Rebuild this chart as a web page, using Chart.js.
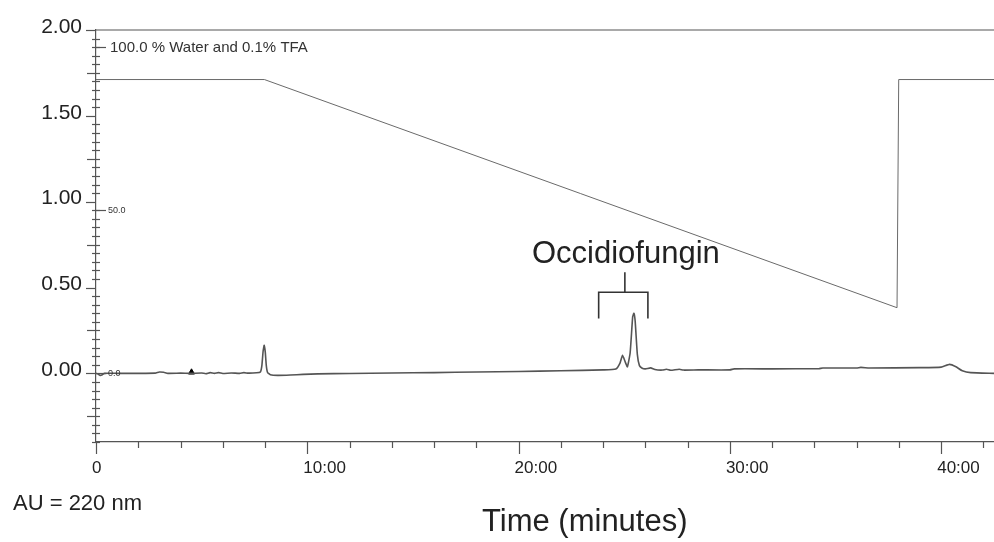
<!DOCTYPE html>
<html lang="en">
<head>
  <meta charset="UTF-8">
  <title>Occidiofungin HPLC trace</title>
  <script src="https://cdn.jsdelivr.net/npm/chart.js"></script>
  <style>
    body {
      margin: 0;
      background: #ffffff;
    }
    canvas {
      display: block;
    }
  </style>
</head>
<body>

<canvas id="hplcChart" width="994" height="542"></canvas>

<script>
  // Axis ticks
  const xTicks = [0, 10, 20, 30, 40];
  const xTickLabels = ['0', '10:00', '20:00', '30:00', '40:00'];
  const yTicks = [0, 0.5, 1, 1.5, 2];
  const yTickLabels = ['0.00', '0.50', '1.00', '1.50', '2.00'];

  // Absorbance trace (AU at 220 nm) vs time in minutes
  const traceTime = [
    0.00, 0.10, 0.20, 0.30, 0.40, 1.00, 2.00, 2.80, 3.00, 3.20, 3.40, 4.00, 4.50,
    5.00, 5.20, 5.40, 5.60, 5.80, 6.00, 6.40, 6.80, 7.00, 7.20, 7.60,
    7.78, 7.85, 7.91, 7.96, 8.01, 8.06, 8.12, 8.25, 8.60, 9.20, 9.80, 10.5,
    12.0, 14.0, 16.0, 18.0, 20.0, 22.0, 24.0, 24.6, 24.8, 24.92, 25.05, 25.15,
    25.28, 25.40, 25.46, 25.52, 25.62, 25.72, 25.85, 26.0, 26.25, 26.45, 26.8,
    27.0, 27.2, 27.6, 27.8, 28.5, 30.0, 30.2, 32.0, 34.2, 34.4, 36.0, 36.2,
    36.6, 39.0, 40.0, 40.4, 40.7, 41.0, 41.4, 42.5
  ];
  const traceAU = [
    0.000, -0.004, -0.012, -0.008, 0.000, 0.000, 0.000, 0.001, 0.008, 0.006, 0.000, 0.001, 0.000,
    0.002, -0.002, 0.004, 0.000, 0.004, -0.001, 0.002, 0.000, 0.004, 0.001, 0.003,
    0.008, 0.045, 0.130, 0.163, 0.125, 0.045, 0.005, -0.008, -0.012, -0.010, -0.006, -0.003,
    -0.001, 0.002, 0.004, 0.008, 0.011, 0.015, 0.020, 0.025, 0.060, 0.105, 0.065, 0.038,
    0.120, 0.330, 0.350, 0.300, 0.110, 0.045, 0.030, 0.026, 0.032, 0.022, 0.019,
    0.024, 0.018, 0.024, 0.019, 0.020, 0.020, 0.026, 0.026, 0.027, 0.031, 0.031, 0.035,
    0.031, 0.033, 0.036, 0.052, 0.038, 0.015, 0.004, 0.000
  ];

  // Gradient program (% water with 0.1% TFA)
  const gradTime = [0, 7.97, 37.91, 37.99, 42.5];
  const gradPercent = [90, 90, 20, 90, 90];
  const gradLabels = [
    { value: 100, text: '100.0 % Water and 0.1% TFA' },
    { value: 50, text: '50.0' },
    { value: 0, text: '0.0' }
  ];

  // Injection marker
  const markerTime = [4.52];
  const markerAU = [0.006];

  // Occidiofungin bracket
  const bracketTime = [23.79, 23.79, 26.12, 26.12];
  const bracketAU = [0.32, 0.472, 0.472, 0.32];
  const stemTime = [25.03, 25.03];
  const stemAU = [0.472, 0.589];
  const peakLabel = { text: 'Occidiofungin', time: 25.03, au: 0.645 };

  const toPoints = (xs, ys) => xs.map((x, i) => ({ x: x, y: ys[i] }));
  const FONT = "'Liberation Sans', Arial, sans-serif";

  // Tick marks, frame line and free text
  const decorPlugin = {
    id: 'decor',
    afterDraw(chart) {
      const ctx = chart.ctx;
      const xs = chart.scales.x;
      const ys = chart.scales.y;
      const y2 = chart.scales.y2;
      const area = chart.chartArea;
      ctx.save();
      ctx.strokeStyle = '#555';
      ctx.lineWidth = 1.2;

      // top frame line
      ctx.beginPath();
      ctx.moveTo(area.left, area.top);
      ctx.lineTo(area.right, area.top);
      ctx.stroke();

      // y ticks every 0.05
      for (let k = -8; k <= 40; k++) {
        const py = Math.round(ys.getPixelForValue(k * 0.05)) + 0.5;
        let x0 = area.left - 4, x1 = area.left + 4;
        if (k % 10 === 0) { x0 = area.left - 10; x1 = area.left; }
        else if (k % 5 === 0) { x0 = area.left - 9; x1 = area.left + 4; }
        ctx.beginPath();
        ctx.moveTo(x0, py);
        ctx.lineTo(x1, py);
        ctx.stroke();
      }

      // x ticks every 2 minutes
      for (let t = 0; t <= 42; t += 2) {
        const px = Math.round(xs.getPixelForValue(t)) + 0.5;
        const len = (t % 10 === 0) ? 12 : 6;
        ctx.beginPath();
        ctx.moveTo(px, area.bottom);
        ctx.lineTo(px, area.bottom + len);
        ctx.stroke();
      }

      // gradient scale labels
      ctx.fillStyle = '#333';
      ctx.textBaseline = 'middle';
      ctx.textAlign = 'left';
      gradLabels.forEach(g => {
        const py = Math.round(y2.getPixelForValue(g.value)) + 0.5;
        ctx.beginPath();
        ctx.moveTo(area.left, py);
        ctx.lineTo(area.left + 10, py);
        ctx.stroke();
        ctx.font = (g.value === 100 ? '15px ' : '9px ') + FONT;
        ctx.fillText(g.text, area.left + (g.value === 100 ? 14 : 12), py);
      });

      // peak annotation
      ctx.fillStyle = '#222';
      ctx.textAlign = 'center';
      ctx.textBaseline = 'alphabetic';
      ctx.font = '31px ' + FONT;
      ctx.fillText(peakLabel.text, xs.getPixelForValue(peakLabel.time) + 1,
        ys.getPixelForValue(peakLabel.au));

      // axis captions
      ctx.textAlign = 'left';
      ctx.font = '22px ' + FONT;
      ctx.fillText('AU = 220 nm', 13, 510);
      ctx.font = '31px ' + FONT;
      ctx.fillText('Time (minutes)', 482, 531);
      ctx.restore();
    }
  };

  const ctx = document.getElementById('hplcChart').getContext('2d');
  new Chart(ctx, {
    type: 'line',
    data: {
      datasets: [
        {
          data: toPoints(traceTime, traceAU),
          borderColor: '#555',
          borderWidth: 1.6,
          pointRadius: 0,
          tension: 0.15,
          yAxisID: 'y'
        },
        {
          data: toPoints(gradTime, gradPercent),
          borderColor: '#6a6a6a',
          borderWidth: 1,
          pointRadius: 0,
          tension: 0,
          yAxisID: 'y2'
        },
        {
          data: toPoints(bracketTime, bracketAU),
          borderColor: '#333',
          borderWidth: 1.6,
          pointRadius: 0,
          tension: 0,
          yAxisID: 'y'
        },
        {
          data: toPoints(stemTime, stemAU),
          borderColor: '#333',
          borderWidth: 1.6,
          pointRadius: 0,
          tension: 0,
          yAxisID: 'y'
        },
        {
          data: toPoints(markerTime, markerAU),
          showLine: false,
          pointStyle: 'triangle',
          pointRadius: 3.5,
          pointBackgroundColor: '#000',
          pointBorderColor: '#000',
          pointBorderWidth: 1,
          yAxisID: 'y'
        }
      ]
    },
    options: {
      responsive: false,
      animation: false,
      layout: { autoPadding: false, padding: { top: 30, right: 0, left: 0, bottom: 0 } },
      plugins: {
        legend: { display: false },
        tooltip: { enabled: false }
      },
      scales: {
        x: {
          type: 'linear',
          min: 0,
          max: 42.5,
          afterBuildTicks: s => { s.ticks = xTicks.map(v => ({ value: v })); },
          afterFit: s => { s.height = 100; s.paddingLeft = 0; s.paddingRight = 0; },
          grid: { display: false, drawTicks: false },
          border: { display: true, color: '#555', width: 1.2 },
          ticks: {
            align: 'start',
            labelOffset: -4,
            padding: 16,
            maxRotation: 0,
            color: '#222',
            font: { family: FONT, size: 17 },
            callback: (v, i) => xTickLabels[i]
          }
        },
        y: {
          type: 'linear',
          min: -0.4,
          max: 2.0,
          afterBuildTicks: s => { s.ticks = yTicks.map(v => ({ value: v })); },
          afterFit: s => { s.width = 96; s.paddingTop = 0; s.paddingBottom = 0; },
          grid: { display: false, drawTicks: false },
          border: { display: true, color: '#555', width: 1.2 },
          ticks: {
            padding: 14,
            labelOffset: -3,
            color: '#222',
            font: { family: FONT, size: 21 },
            callback: (v, i) => yTickLabels[i]
          }
        },
        y2: {
          type: 'linear',
          display: false,
          min: -21.2,
          max: 105.2
        }
      }
    },
    plugins: [decorPlugin]
  });
</script>

</body>
</html>
